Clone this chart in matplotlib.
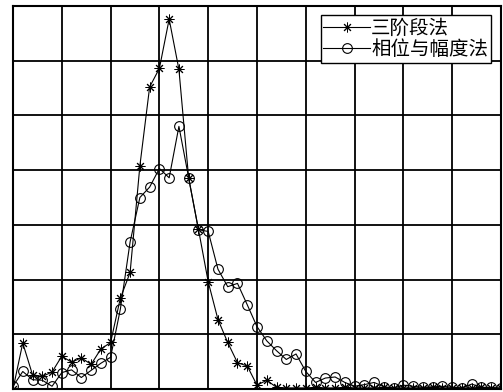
import numpy as np
import matplotlib
matplotlib.use("Agg")
import matplotlib.pyplot as plt

plt.rcParams['font.family'] = ['Noto Sans CJK SC', 'DejaVu Sans']

labels = ["三阶段法", "相位与幅度法"]

x_vals = np.round(np.arange(51) * 0.2, 2)

three_stage = [0.00, 0.84, 0.26, 0.23, 0.31, 0.60, 0.49, 0.57, 0.45, 0.73,
               0.85, 1.66, 2.13, 4.08, 5.52, 5.86, 6.76, 5.84, 3.85, 2.92,
               1.96, 1.27, 0.85, 0.48, 0.42, 0.07, 0.16, 0.03, 0.02, 0.02,
               0.02, 0.03, 0.02, 0.02, 0.03, 0.02, 0.02, 0.02, 0.03, 0.02,
               0.02, 0.02, 0.02, 0.03, 0.02, 0.02, 0.02, 0.02, 0.03, 0.02,
               0.02]

phase_amp = [0.05, 0.32, 0.17, 0.16, 0.05, 0.30, 0.35, 0.21, 0.34, 0.47,
             0.58, 1.46, 2.69, 3.50, 3.69, 4.03, 3.86, 4.80, 3.86, 2.91,
             2.88, 2.19, 1.87, 1.93, 1.54, 1.14, 0.88, 0.70, 0.54, 0.64,
             0.32, 0.12, 0.20, 0.22, 0.12, 0.05, 0.08, 0.12, 0.04, 0.02,
             0.07, 0.05, 0.03, 0.04, 0.05, 0.03, 0.02, 0.09, 0.03, 0.03,
             0.01]

fig = plt.figure(figsize=(5.03, 3.92), dpi=100)
ax = fig.add_axes([13/503, 3/392, 488/503, 383/392])

ax.plot(x_vals, three_stage, color='black', lw=0.8, marker=(8, 2, 0),
        markersize=7, markeredgewidth=0.7, label=labels[0], zorder=3)
ax.plot(x_vals, phase_amp, color='black', lw=0.8, marker='o',
        markersize=7, markerfacecolor='none', markeredgewidth=0.8,
        label=labels[1], zorder=3)

ax.set_xlim(0, 10)
ax.set_ylim(0, 7)
ax.set_xticks(np.arange(0, 11, 1))
ax.set_yticks(np.arange(0, 8, 1))
ax.grid(True, color='black', lw=1.3)
ax.tick_params(labelbottom=False, labelleft=False, length=0)
for s in ax.spines.values():
    s.set_linewidth(1.5)

leg = ax.legend(loc='upper right', bbox_to_anchor=(0.9795, 0.9765),
                fontsize=14, frameon=True, fancybox=False,
                edgecolor='black', framealpha=1, borderpad=0.15,
                labelspacing=0.0, handlelength=2.4, handletextpad=0.05,
                borderaxespad=0)
leg.get_frame().set_linewidth(1.0)

fig.savefig("out.png", dpi=100)
